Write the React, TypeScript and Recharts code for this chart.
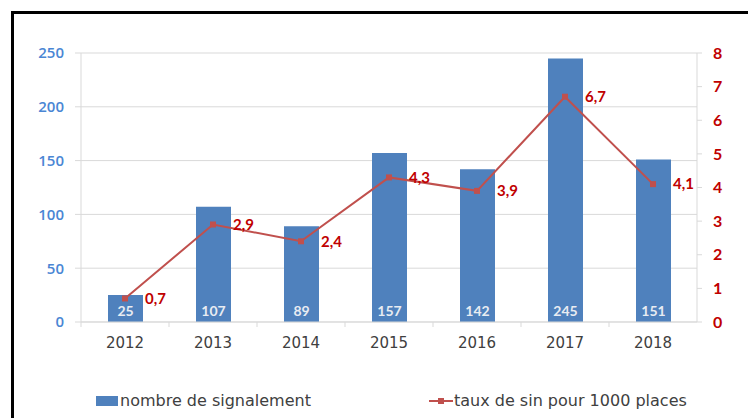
import { Bar, CartesianGrid, ComposedChart, LabelList, Line, XAxis, YAxis } from 'recharts';

const years = ['2012', '2013', '2014', '2015', '2016', '2017', '2018'];
const signalements = [25, 107, 89, 157, 142, 245, 151];
const tauxSin = [0.7, 2.9, 2.4, 4.3, 3.9, 6.7, 4.1];
const leftTicks = [0, 50, 100, 150, 200, 250];
const rightTicks = [0, 1, 2, 3, 4, 5, 6, 7, 8];

const W = 748;
const H = 418;
const LEFT_W = 81;
const RIGHT_W = 51;
const halfBand = (W - LEFT_W - RIGHT_W) / (2 * years.length);

const barColor = '#4F81BD';
const lineColor = '#C0504D';
const labelRed = '#C00000';
const axisGray = '#D9D9D9';

const data = years.map((year, i) => ({ year, count: signalements[i], rate: tauxSin[i] }));

const fmtComma = (v: number) => String(v).replace('.', ',');

function YearTick({ x, y, payload }: any) {
  return (
    <g>
      <line x1={x - halfBand} x2={x - halfBand} y1={y - 10} y2={y - 5} stroke={axisGray} />
      <text x={x} y={y} dy={16} textAnchor="middle" fontSize={15} fill="#404040" fontFamily="'DejaVu Sans', sans-serif">
        {payload.value}
      </text>
    </g>
  );
}

function SquareDot({ cx, cy }: any) {
  if (cx == null || cy == null) return null;
  return <rect x={cx - 3} y={cy - 3} width={6} height={6} fill={lineColor} />;
}

const legendStyle = {
  position: 'absolute' as const,
  top: 391,
  display: 'flex',
  alignItems: 'center',
  fontFamily: "'DejaVu Sans', sans-serif",
  fontSize: 16,
  color: '#404040',
};

export default function App() {
  return (
    <div style={{ position: 'absolute', left: 0, top: 0, width: W, height: H, background: '#fff', overflow: 'hidden' }}>
      <div
        style={{
          position: 'absolute',
          left: 11,
          top: 11,
          width: W,
          height: H,
          borderLeft: '3px solid #000',
          borderTop: '3px solid #000',
        }}
      />
      <div style={{ position: 'absolute', left: 0, top: 0 }}>
        <ComposedChart width={W} height={H} data={data} margin={{ top: 53, right: 0, bottom: 66, left: 0 }}>
          <CartesianGrid yAxisId="left" vertical={false} stroke={axisGray} />
          <XAxis
            dataKey="year"
            axisLine={{ stroke: axisGray }}
            tickLine={false}
            tickSize={0}
            tickMargin={10}
            tick={<YearTick />}
            interval={0}
          />
          <YAxis
            yAxisId="left"
            width={LEFT_W}
            domain={[0, 250]}
            ticks={leftTicks}
            axisLine={{ stroke: axisGray }}
            tickLine={{ stroke: axisGray }}
            tickSize={6}
            tickMargin={11}
            tick={{ fontSize: 15, fill: '#4A86D4', fontWeight: 600, fontFamily: "'Open Sans', sans-serif" }}
          />
          <YAxis
            yAxisId="right"
            orientation="right"
            width={RIGHT_W}
            domain={[0, 8]}
            ticks={rightTicks}
            axisLine={{ stroke: axisGray }}
            tickLine={{ stroke: axisGray }}
            tickSize={5}
            tickMargin={11}
            tick={{ fontSize: 16, fill: labelRed, fontWeight: 700, fontFamily: 'Lato, sans-serif' }}
          />
          <Bar yAxisId="left" dataKey="count" fill={barColor} barSize={35} isAnimationActive={false}>
            <LabelList
              dataKey="count"
              position="insideBottom"
              offset={6}
              fill="#E8ECF2"
              fontSize={14}
              fontWeight={700}
              fontFamily="Lato, sans-serif"
            />
          </Bar>
          <Line
            yAxisId="right"
            dataKey="rate"
            stroke={lineColor}
            strokeWidth={2}
            dot={<SquareDot />}
            activeDot={false}
            isAnimationActive={false}
          >
            <LabelList
              dataKey="rate"
              position="right"
              offset={20}
              formatter={(v: any) => fmtComma(v)}
              fill={labelRed}
              fontSize={15}
              fontWeight={700}
              fontFamily="Lato, sans-serif"
            />
          </Line>
        </ComposedChart>
      </div>
      <div style={{ ...legendStyle, left: 96 }}>
        <span style={{ display: 'inline-block', width: 22, height: 10, background: barColor, marginRight: 2 }} />
        nombre de signalement
      </div>
      <div style={{ ...legendStyle, left: 429 }}>
        <svg width={24} height={10} style={{ marginRight: 1 }}>
          <line x1={0} x2={24} y1={5} y2={5} stroke={lineColor} strokeWidth={2} />
          <rect x={9} y={2} width={6} height={6} fill={lineColor} />
        </svg>
        taux de sin pour 1000 places
      </div>
    </div>
  );
}
